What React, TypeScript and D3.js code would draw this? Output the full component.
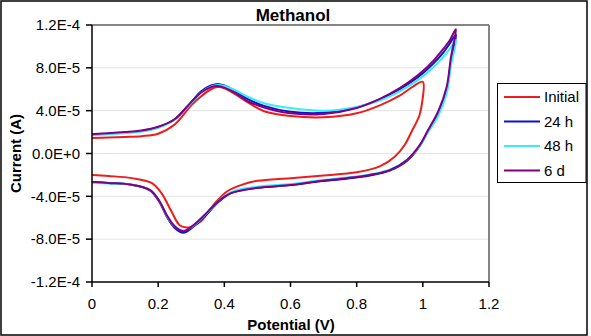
import React from 'react';
import * as d3 from 'd3';

// scan potentials (V), in sweep order
const initialPotential = [0, 0.05, 0.1, 0.15, 0.2, 0.25, 0.3, 0.33, 0.36, 0.38, 0.4, 0.43, 0.47, 0.52, 0.6, 0.7, 0.8, 0.87, 0.93, 0.97, 1.0,
  0.997, 0.99, 0.982, 0.967, 0.945, 0.915, 0.87, 0.8, 0.7, 0.6, 0.5, 0.46, 0.41, 0.37, 0.33, 0.3, 0.285, 0.265, 0.24, 0.21, 0.18, 0.12, 0.05, 0];
const sweepPotential = [0, 0.05, 0.1, 0.15, 0.2, 0.25, 0.3, 0.33, 0.36, 0.38, 0.4, 0.43, 0.47, 0.52, 0.6, 0.7, 0.8, 0.87, 0.93, 0.97, 1.0, 1.03, 1.06, 1.08, 1.1,
  1.085, 1.072, 1.046, 1.016, 0.991, 0.952, 0.9, 0.84, 0.77, 0.69, 0.6, 0.5, 0.42, 0.38, 0.34, 0.3, 0.276, 0.25, 0.226, 0.205, 0.175, 0.115, 0.05, 0];

// currents (A)
const initialCurrent = [1.45e-5, 1.5e-5, 1.55e-5, 1.62e-5, 1.85e-5, 2.7e-5, 4.5e-5, 5.35e-5, 6.0e-5, 6.2e-5, 6.1e-5, 5.6e-5, 4.8e-5, 3.95e-5, 3.5e-5, 3.38e-5, 3.75e-5, 4.5e-5, 5.4e-5, 6.25e-5, 6.7e-5,
  4.6e-5, 3.6e-5, 3.0e-5, 2.1e-5, 0.8e-5, -0.3e-5, -1.2e-5, -1.75e-5, -2.05e-5, -2.3e-5, -2.55e-5, -2.85e-5, -3.5e-5, -4.7e-5, -6.3e-5, -6.85e-5, -6.9e-5, -6.7e-5, -5.4e-5, -3.7e-5, -2.75e-5, -2.3e-5, -2.1e-5, -2.0e-5];
const h24Current = [1.75e-5, 1.85e-5, 1.95e-5, 2.1e-5, 2.45e-5, 3.2e-5, 4.8e-5, 5.8e-5, 6.35e-5, 6.5e-5, 6.35e-5, 5.9e-5, 5.1e-5, 4.45e-5, 3.9e-5, 3.8e-5, 4.3e-5, 5.05e-5, 6.0e-5, 6.8e-5, 7.5e-5, 8.35e-5, 9.35e-5, 10.2e-5, 11.1e-5,
  8.6e-5, 5.9e-5, 3.7e-5, 2.1e-5, 0.7e-5, -0.7e-5, -1.6e-5, -2.05e-5, -2.35e-5, -2.6e-5, -2.95e-5, -3.2e-5, -3.7e-5, -4.6e-5, -5.9e-5, -7.0e-5, -7.4e-5, -6.95e-5, -5.9e-5, -4.6e-5, -3.45e-5, -2.9e-5, -2.75e-5, -2.65e-5];
const h48Current = [1.7e-5, 1.8e-5, 1.9e-5, 2.05e-5, 2.4e-5, 3.15e-5, 4.7e-5, 5.7e-5, 6.25e-5, 6.4e-5, 6.3e-5, 5.95e-5, 5.3e-5, 4.7e-5, 4.25e-5, 4.0e-5, 4.35e-5, 4.95e-5, 5.8e-5, 6.55e-5, 7.2e-5, 8.0e-5, 8.95e-5, 9.7e-5, 10.6e-5,
  8.2e-5, 5.6e-5, 3.5e-5, 2.0e-5, 0.7e-5, -0.6e-5, -1.5e-5, -1.95e-5, -2.25e-5, -2.5e-5, -2.85e-5, -3.1e-5, -3.6e-5, -4.5e-5, -5.8e-5, -6.9e-5, -7.2e-5, -6.8e-5, -5.8e-5, -4.5e-5, -3.4e-5, -2.9e-5, -2.8e-5, -2.75e-5];
const d6Current = [1.8e-5, 1.9e-5, 2.0e-5, 2.15e-5, 2.5e-5, 3.2e-5, 4.8e-5, 5.7e-5, 6.2e-5, 6.3e-5, 6.15e-5, 5.7e-5, 4.9e-5, 4.3e-5, 3.75e-5, 3.7e-5, 4.25e-5, 5.1e-5, 6.1e-5, 6.95e-5, 7.7e-5, 8.6e-5, 9.7e-5, 10.5e-5, 11.6e-5,
  9.0e-5, 6.2e-5, 3.9e-5, 2.2e-5, 0.8e-5, -0.6e-5, -1.55e-5, -2.0e-5, -2.3e-5, -2.57e-5, -2.95e-5, -3.2e-5, -3.7e-5, -4.5e-5, -5.75e-5, -6.85e-5, -7.25e-5, -6.8e-5, -5.75e-5, -4.5e-5, -3.4e-5, -2.9e-5, -2.75e-5, -2.65e-5];

const seriesNames = ['Initial', '24 h', '48 h', '6 d'];
const seriesColors = ['#ee1c1c', '#1010c8', '#33eeff', '#800080'];

const xTicks = [0, 0.2, 0.4, 0.6, 0.8, 1, 1.2];
const yTicks = [-1.2e-4, -8e-5, -4e-5, 0, 4e-5, 8e-5, 1.2e-4];
const yTickLabels = ['-1.2E-4', '-8.0E-5', '-4.0E-5', '0.0E+0', '4.0E-5', '8.0E-5', '1.2E-4'];

const font = 'Liberation Sans, Arial, sans-serif';

export default function App() {
  const width = 591;
  const height = 336;
  const left = 92, right = 489, top = 25, bottom = 282;

  const x = d3.scaleLinear().domain([0, 1.2]).range([left, right]);
  const y = d3.scaleLinear().domain([-1.2e-4, 1.2e-4]).range([bottom, top]);

  const series = [
    { name: seriesNames[0], color: seriesColors[0], pts: initialPotential.map((v, i) => [v, initialCurrent[i]]) },
    { name: seriesNames[1], color: seriesColors[1], pts: sweepPotential.map((v, i) => [v, h24Current[i]]) },
    { name: seriesNames[2], color: seriesColors[2], pts: sweepPotential.map((v, i) => [v, h48Current[i]]) },
    { name: seriesNames[3], color: seriesColors[3], pts: sweepPotential.map((v, i) => [v, d6Current[i]]) },
  ];

  const line = d3.line<number[]>()
    .x(d => x(d[0]))
    .y(d => y(d[1]))
    .curve(d3.curveCatmullRom.alpha(0.5));

  return (
    <svg width={width} height={height} style={{ position: 'absolute', left: 0, top: 0, background: '#fff' }} fontFamily={font}>
      <rect x={1} y={1} width={586} height={334} fill="#fff" stroke="#000" strokeWidth={1.5} />

      {/* gridlines */}
      {yTicks.slice(1, -1).map(t => (
        <line key={t} x1={left} x2={right} y1={y(t)} y2={y(t)} stroke="#e3e3e3" strokeWidth={1} />
      ))}
      {/* plot frame top/right */}
      <line x1={left} x2={right} y1={top} y2={top} stroke="#858585" strokeWidth={2} />
      <line x1={right} x2={right} y1={top} y2={bottom} stroke="#858585" strokeWidth={2} />

      {/* series */}
      {series.map(s => (
        <path key={s.name} d={line(s.pts) || ''} fill="none" stroke={s.color} strokeWidth={2} strokeLinejoin="round" />
      ))}

      {/* axes */}
      <line x1={left} x2={left} y1={top} y2={bottom} stroke="#000" strokeWidth={1.5} />
      <line x1={left} x2={right} y1={bottom} y2={bottom} stroke="#000" strokeWidth={1.5} />
      {yTicks.map((t, i) => (
        <g key={t}>
          <line x1={left - 6} x2={left} y1={y(t)} y2={y(t)} stroke="#000" strokeWidth={1.5} />
          <text x={80} y={y(t)} dy="0.35em" textAnchor="end" fontSize={15}>{yTickLabels[i]}</text>
        </g>
      ))}
      {xTicks.map(t => (
        <g key={t}>
          <line x1={x(t)} x2={x(t)} y1={bottom} y2={bottom + 5} stroke="#000" strokeWidth={1.5} />
          <text x={x(t)} y={309} textAnchor="middle" fontSize={15}>{t}</text>
        </g>
      ))}

      <text x={293} y={21} textAnchor="middle" fontSize={17} fontWeight="bold">Methanol</text>
      <text x={291} y={330} textAnchor="middle" fontSize={15} fontWeight="bold">Potential (V)</text>
      <text transform="translate(20.5,153.5) rotate(-90)" textAnchor="middle" fontSize={15} fontWeight="bold">Current (A)</text>

      {/* legend */}
      <rect x={497.5} y={83.5} width={88.5} height={99} fill="#fff" stroke="#000" strokeWidth={1} />
      {series.map((s, i) => (
        <g key={s.name} transform={`translate(0,${97 + i * 24.5})`}>
          <line x1={504} x2={540} y1={0} y2={0} stroke={s.color} strokeWidth={2} />
          <text x={544} y={0} dy="0.35em" fontSize={15}>{s.name}</text>
        </g>
      ))}
    </svg>
  );
}
